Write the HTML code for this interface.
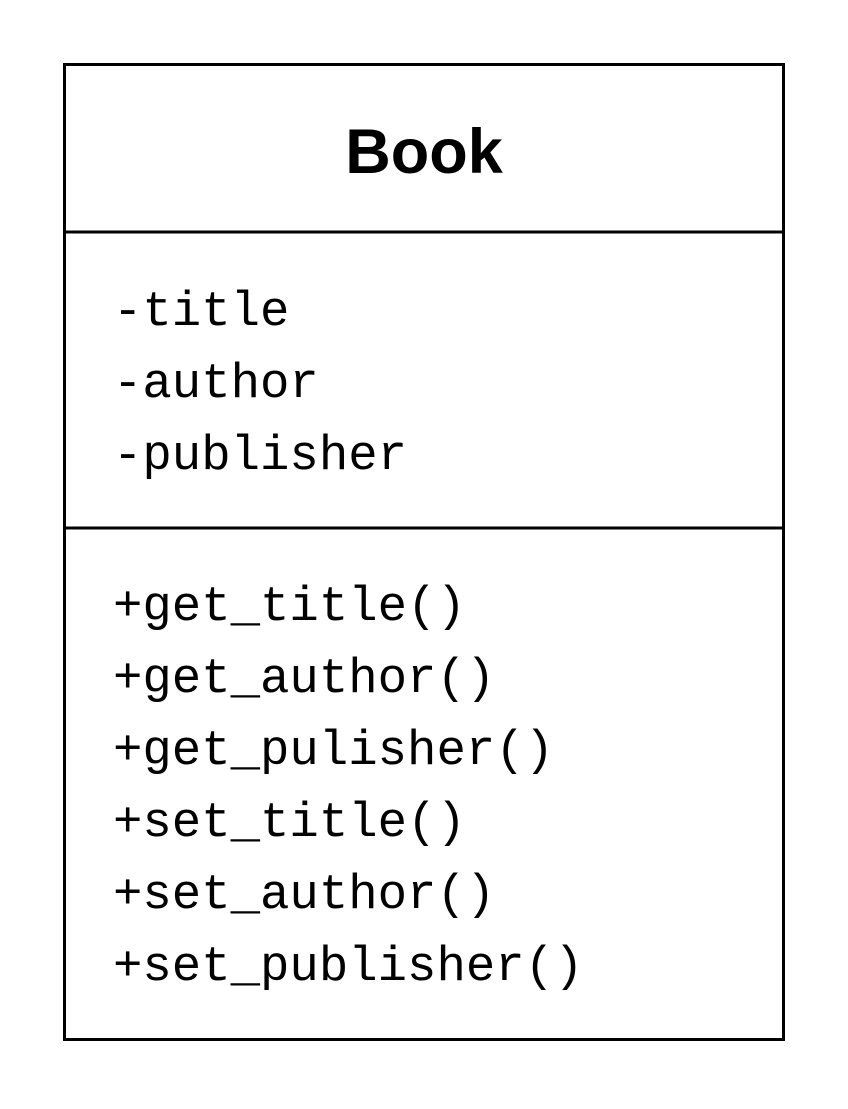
<!DOCTYPE html>
<html><head><meta charset="utf-8"><style>
html,body{margin:0;padding:0;background:#fff;}
</style></head><body>
<svg width="848" height="1104" xmlns="http://www.w3.org/2000/svg">
<rect x="0" y="0" width="848" height="1104" fill="#fff"/>
<rect x="64.5" y="64.5" width="719" height="975" fill="none" stroke="#000" stroke-width="3"/>
<line x1="64" y1="232" x2="784" y2="232" stroke="#000" stroke-width="3"/>
<line x1="64" y1="528" x2="784" y2="528" stroke="#000" stroke-width="3"/>
<text x="424" y="173" text-anchor="middle" font-family="Liberation Sans, sans-serif" font-weight="bold" font-size="63">Book</text>
<g font-family="Liberation Mono, monospace" font-size="49" fill="#000">
<text x="113" y="325">-title</text>
<text x="113" y="397">-author</text>
<text x="113" y="469">-publisher</text>
<text x="113" y="620">+get_title()</text>
<text x="113" y="692">+get_author()</text>
<text x="113" y="764">+get_pulisher()</text>
<text x="113" y="836">+set_title()</text>
<text x="113" y="908">+set_author()</text>
<text x="113" y="980">+set_publisher()</text>
</g>
</svg>
</body></html>
